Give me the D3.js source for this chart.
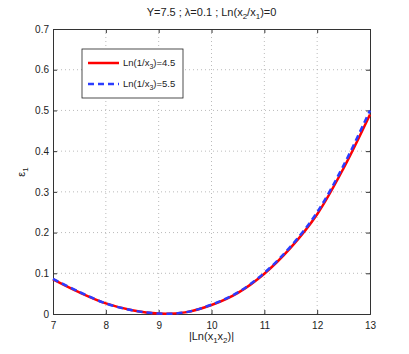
<!DOCTYPE html>
<html>
<head>
<meta charset="utf-8">
<script src="https://cdn.jsdelivr.net/npm/d3@7"></script>
<style>
  body { margin: 0; background: #fff; }
  svg { font-family: 'Liberation Sans', Arial, sans-serif; }
</style>
</head>
<body>
<svg width="409" height="354"></svg>
<script>
// data
const xValues = [7, 7.5, 8, 8.5, 9, 9.5, 10, 10.5, 11, 11.5, 12, 12.5, 13]
const eps45 = [0.085, 0.053, 0.026, 0.009, 0.001, 0.004, 0.022, 0.052, 0.099, 0.163, 0.245, 0.358, 0.49]
const eps55 = [0.086, 0.054, 0.026, 0.009, 0.001, 0.004, 0.023, 0.053, 0.101, 0.166, 0.25, 0.365, 0.5]
const xTicks = [7, 8, 9, 10, 11, 12, 13]
const yTicks = [0, 0.1, 0.2, 0.3, 0.4, 0.5, 0.6, 0.7]

const margin = {top: 29, left: 53, right: 39, bottom: 40}
const width = 409 - margin.left - margin.right
const height = 354 - margin.top - margin.bottom

const svg = d3.select('svg')
const g = svg.append('g').attr('transform', `translate(${margin.left},${margin.top})`)

const x = d3.scaleLinear().domain([7, 13]).range([0, width])
const y = d3.scaleLinear().domain([0, 0.7]).range([height, 0])

// grid
g.selectAll('.gx').data(xTicks.slice(1, -1)).enter().append('line')
  .attr('x1', d => x(d)).attr('x2', d => x(d)).attr('y1', 0).attr('y2', height)
  .attr('stroke', '#aaa').attr('stroke-width', 0.8).attr('stroke-dasharray', '1,3')
g.selectAll('.gy').data(yTicks.slice(1, -1)).enter().append('line')
  .attr('y1', d => y(d)).attr('y2', d => y(d)).attr('x1', 0).attr('x2', width)
  .attr('stroke', '#aaa').attr('stroke-width', 0.8).attr('stroke-dasharray', '1,3')

// axes (ticks inside, matlab style)
const xAxis = g.append('g').attr('transform', `translate(0,${height})`)
  .call(d3.axisBottom(x).tickValues(xTicks).tickFormat(d3.format('d')).tickSize(-4).tickPadding(8))
const yAxis = g.append('g')
  .call(d3.axisLeft(y).tickValues(yTicks).tickFormat(d => d === 0 ? '0' : d3.format('.1f')(d)).tickSize(-4).tickPadding(4))
const xAxisTop = g.append('g')
  .call(d3.axisTop(x).tickValues(xTicks).tickFormat('').tickSize(-4))
const yAxisRight = g.append('g').attr('transform', `translate(${width},0)`)
  .call(d3.axisRight(y).tickValues(yTicks).tickFormat('').tickSize(-4))
;[xAxis, yAxis, xAxisTop, yAxisRight].forEach(a => {
  a.selectAll('path, line').attr('stroke', '#333')
  a.selectAll('text').attr('fill', '#222').style('font-size', '10px')
})

// curves
const line = d3.line()
  .curve(d3.curveCatmullRom)
  .x((d, i) => x(xValues[i]))
  .y(d => y(d))

g.append('path').datum(eps45)
  .attr('d', line).attr('fill', 'none')
  .attr('stroke', '#ff0000').attr('stroke-width', 2.5)
g.append('path').datum(eps55)
  .attr('d', line).attr('fill', 'none')
  .attr('stroke', '#2b3cff').attr('stroke-width', 2.5).attr('stroke-dasharray', '6,4')

// title
const title = svg.append('text').attr('x', margin.left + width / 2).attr('y', 16)
  .attr('text-anchor', 'middle').style('font-size', '11px').attr('fill', '#222')
title.append('tspan').text('Y=7.5 ; λ=0.1 ; Ln(x')
title.append('tspan').attr('dy', 3).style('font-size', '8px').text('2')
title.append('tspan').attr('dy', -3).text('/x')
title.append('tspan').attr('dy', 3).style('font-size', '8px').text('1')
title.append('tspan').attr('dy', -3).text(')=0')

// x label
const xl = svg.append('text').attr('x', margin.left + width / 2).attr('y', 340)
  .attr('text-anchor', 'middle').style('font-size', '11px').attr('fill', '#222')
xl.append('tspan').text('|Ln(x')
xl.append('tspan').attr('dy', 3).style('font-size', '8px').text('1')
xl.append('tspan').attr('dy', -3).text('x')
xl.append('tspan').attr('dy', 3).style('font-size', '8px').text('2')
xl.append('tspan').attr('dy', -3).text(')|')

// y label
const yl = svg.append('text').attr('transform', 'translate(25,172) rotate(-90)')
  .attr('text-anchor', 'middle').style('font-size', '11px').attr('fill', '#222')
yl.append('tspan').text('ε')
yl.append('tspan').attr('dy', 3).style('font-size', '8px').text('1')

// legend
const leg = svg.append('g').attr('transform', 'translate(82,49)')
leg.append('rect').attr('width', 101).attr('height', 49)
  .attr('fill', '#fff').attr('stroke', '#222').attr('stroke-width', 0.8)
const legItems = [
  {label: '4.5', color: '#ff0000', dash: null, yy: 14},
  {label: '5.5', color: '#2b3cff', dash: '6,4', yy: 35}
]
legItems.forEach(it => {
  leg.append('line').attr('x1', 6).attr('x2', 37).attr('y1', it.yy).attr('y2', it.yy)
    .attr('stroke', it.color).attr('stroke-width', 2.5).attr('stroke-dasharray', it.dash)
  const t = leg.append('text').attr('x', 41).attr('y', it.yy + 3).style('font-size', '9.5px').attr('fill', '#222')
  t.append('tspan').text('Ln(1/x')
  t.append('tspan').attr('dy', 3).style('font-size', '7px').text('3')
  t.append('tspan').attr('dy', -3).text(')=' + it.label)
})
</script>
</body>
</html>
